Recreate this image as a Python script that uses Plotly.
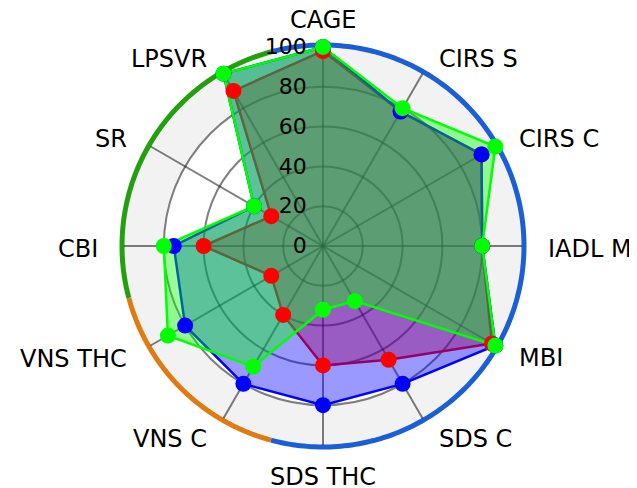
import numpy as np
import plotly.graph_objects as go

# ---- data ----
categories = ["CAGE", "CIRS S", "CIRS C", "IADL M", "MBI", "SDS C",
              "SDS THC", "VNS C", "VNS THC", "CBI", "SR", "LPSVR"]
red_values = [98, 78, 92, 80, 98, 66, 60, 40, 30, 60, 30, 90]
blue_values = [100, 78, 92, 80, 100, 80, 80, 80, 80, 75, 40, 100]
green_values = [100, 80, 100, 80, 100, 32, 32, 70, 90, 80, 40, 100]
category_groups = [0, 0, 0, 0, 0, 0, 0, 1, 1, 2, 2, 2]
group_colors = ["#1a5ed8", "#e07b14", "#23a00e"]
radial_ticks = [0, 20, 40, 60, 80, 100]
radial_max = 100
inner_white_radius = 80
arc_radius = 101

series = [
    ("red", red_values, "rgba(255,0,0,0.4)"),
    ("blue", blue_values, "rgba(0,0,255,0.4)"),
    ("#00ff00", green_values, "rgba(0,255,0,0.4)"),
]

# ---- geometry (layout pixels) ----
W, H = 637, 488
cx, cy, rad = 315, 238, 199          # centre and radius of r = radial_max
ext = 1.05                            # decoration polar range factor
half_w = 230
label_rx, label_gap, label_ry, label_dy = 218, 5, 219, 3
label_pole_top, label_pole_bottom = 210, 215


def dom(radius):
    return dict(
        x=[(cx - half_w) / W, (cx + half_w) / W],
        y=[(H - cy - radius) / H, (H - cy + radius) / H],
    )


fig = go.Figure()

# background decoration (bottom polar, numeric angles)
circle_theta = np.linspace(0, 360, 361)
fig.add_trace(go.Scatterpolar(
    r=[radial_max] * len(circle_theta), theta=circle_theta,
    mode="lines", fill="toself", fillcolor="#f2f2f2",
    line=dict(width=0, color="#f2f2f2"), hoverinfo="skip",
    subplot="polar", showlegend=False))
fig.add_trace(go.Scatterpolar(
    r=[inner_white_radius] * len(circle_theta), theta=circle_theta,
    mode="lines", fill="toself", fillcolor="white",
    line=dict(width=0, color="white"), hoverinfo="skip",
    subplot="polar", showlegend=False))

step = 360 / len(categories)
for g, color in enumerate(group_colors):
    idx = [i for i, cg in enumerate(category_groups) if cg == g]
    start = (min(idx) - 0.5) * step
    end = (max(idx) + 0.5) * step
    th = np.linspace(start, end, 200)
    fig.add_trace(go.Scatterpolar(
        r=[arc_radius] * len(th), theta=th, mode="lines",
        line=dict(color=color, width=5), hoverinfo="skip",
        subplot="polar", showlegend=False))

# data: filled polygons
for color, vals, fill in series:
    fig.add_trace(go.Scatterpolar(
        r=vals + [vals[0]], theta=categories + [categories[0]],
        mode="lines", fill="toself", fillcolor=fill,
        line=dict(color=color, width=2.5),
        subplot="polar2", showlegend=False))

# data: markers on top
for color, vals, fill in series:
    fig.add_trace(go.Scatterpolar(
        r=vals, theta=categories, mode="markers",
        marker=dict(color=color, size=16, line=dict(width=0)),
        subplot="polar2", showlegend=False))

# category labels around the chart
annotations = []
for i, name in enumerate(categories):
    a = np.deg2rad(i * step)
    s, c = np.sin(a), np.cos(a)
    if abs(s) < 0.1:
        x, xa = cx, "center"
        if c > 0:
            y, ya = cy - label_pole_top, "bottom"
        else:
            y, ya = cy + label_pole_bottom, "top"
    else:
        x = cx + label_rx * s + np.sign(s) * label_gap
        xa = "left" if s > 0 else "right"
        y, ya = cy - label_ry * c + label_dy, "middle"
    annotations.append(dict(
        text=name, x=x / W, y=1 - y / H, xref="paper", yref="paper",
        xanchor=xa, yanchor=ya, showarrow=False,
        font=dict(size=24, family="DejaVu Sans", color="black")))

fig.update_layout(
    width=W, height=H,
    margin=dict(l=0, r=0, t=0, b=0),
    paper_bgcolor="white",
    font=dict(family="DejaVu Sans", color="black"),
    showlegend=False,
    annotations=annotations,
    polar=dict(
        domain=dom(rad * ext),
        bgcolor="rgba(0,0,0,0)",
        radialaxis=dict(range=[0, radial_max * ext], visible=False),
        angularaxis=dict(visible=False, rotation=90, direction="clockwise",
                         thetaunit="degrees"),
    ),
    polar2=dict(
        domain=dom(rad),
        bgcolor="rgba(0,0,0,0)",
        radialaxis=dict(
            range=[0, radial_max], tickvals=radial_ticks, angle=90,
            tickangle=90, side="counterclockwise",
            tickfont=dict(size=22, family="DejaVu Sans", color="black"),
            gridcolor="rgba(0,0,0,0.5)", gridwidth=2,
            showline=False, ticks="outside", ticklen=8,
            tickcolor="rgba(0,0,0,0)",
        ),
        angularaxis=dict(
            type="category", categoryarray=categories,
            rotation=90, direction="clockwise",
            showticklabels=False,
            gridcolor="rgba(0,0,0,0.5)", gridwidth=2,
            showline=False, ticks="",
        ),
    ),
)

fig.write_html("out.html")
